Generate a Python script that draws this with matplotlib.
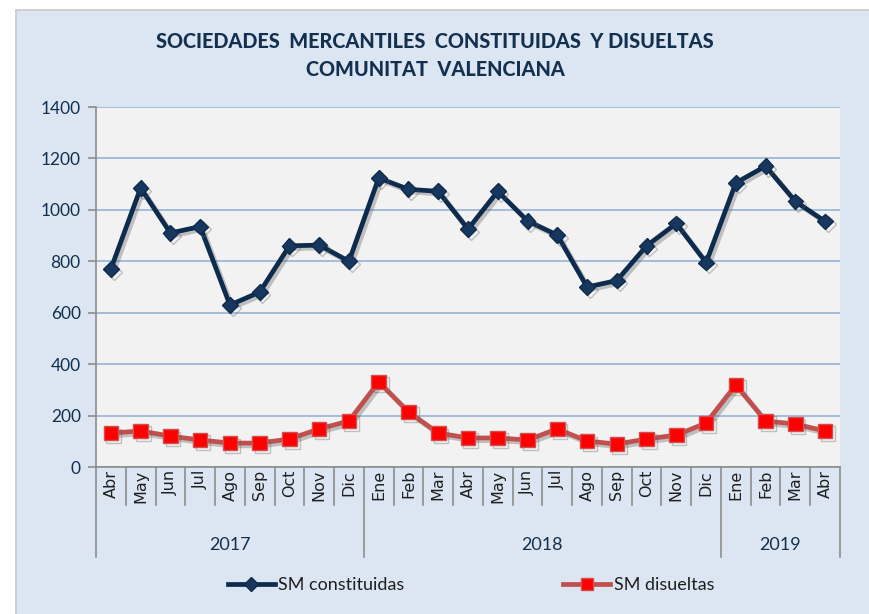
import matplotlib
matplotlib.use("Agg")
import matplotlib.pyplot as plt
import matplotlib.patheffects as pe
from matplotlib.patches import Rectangle
from matplotlib.lines import Line2D
import numpy as np

months = ["Abr", "May", "Jun", "Jul", "Ago", "Sep", "Oct", "Nov", "Dic",
          "Ene", "Feb", "Mar", "Abr", "May", "Jun", "Jul", "Ago", "Sep", "Oct", "Nov", "Dic",
          "Ene", "Feb", "Mar", "Abr"]
years = ["2017", "2018", "2019"]
year_counts = [9, 12, 4]
constituidas = [770, 1085, 910, 935, 630, 680, 860, 863, 800,
                1124, 1080, 1072, 925, 1072, 957, 902, 700, 725, 860, 947, 795,
                1105, 1170, 1033, 955]
disueltas = [132, 140, 120, 105, 93, 93, 109, 148, 179,
             331, 214, 132, 113, 113, 105, 148, 101, 89, 109, 124, 171,
             319, 179, 167, 140]
y_ticks = [0, 200, 400, 600, 800, 1000, 1200, 1400]

navy = "#0D2B4C"
txt = "#14304F"
bg = "#DCE6F2"

fig = plt.figure(figsize=(8.7, 6.14), dpi=100, facecolor="white")
fig.patches.append(Rectangle((16/870, -0.01), 1.0, 1 - 10/614 + 0.01, transform=fig.transFigure,
                             facecolor=bg, edgecolor="#C8C8C8", linewidth=1.2, zorder=-10))

ax = fig.add_axes([96/870, 1 - 467/614, (840 - 96)/870, (467 - 107)/614])
ax.set_facecolor("#F2F2F2")
n = len(months)
x = np.arange(n)
ax.set_xlim(-0.5, n - 0.5)
ax.set_ylim(0, 1400)
ax.set_yticks(y_ticks)
ax.set_yticklabels([str(v) for v in y_ticks], fontsize=12.5, color=txt, family="Lato")
ax.tick_params(axis="y", direction="out", length=6, color="#8C8C8C", width=1.2, pad=5)
ax.grid(axis="y", color="#95B3D7", linewidth=1.2)
ax.set_axisbelow(True)
for s in ["top", "right"]:
    ax.spines[s].set_visible(False)
ax.spines["left"].set_color("#8C8C8C")
ax.spines["left"].set_linewidth(1.2)
ax.spines["bottom"].set_color("#8C8C8C")
ax.spines["bottom"].set_linewidth(1.2)
ax.set_xticks([])

shadow = [pe.SimpleLineShadow(offset=(2, -2), shadow_color="#606060", alpha=0.35), pe.Normal()]
ax.plot(x, constituidas, color=navy, linewidth=3.4, marker="D", markersize=8,
        markerfacecolor="#17375E", markeredgecolor=navy, markeredgewidth=1,
        path_effects=shadow, zorder=4, clip_on=False)
ax.plot(x, disueltas, color="#C0504D", linewidth=3.4, marker="s", markersize=10.5,
        markerfacecolor="#FF0000", markeredgecolor="#D05050", markeredgewidth=1,
        path_effects=shadow, zorder=4, clip_on=False)

# multi-level category axis
trans = ax.get_xaxis_transform()
month_bottom = -(505 - 467) / 360
year_bottom = -(557 - 467) / 360
boundaries = [0]
for c in year_counts:
    boundaries.append(boundaries[-1] + c)
for i in range(n + 1):
    b = i - 0.5
    bottom = year_bottom if i in boundaries else month_bottom
    ax.plot([b, b], [0, bottom], transform=trans, color="#8C8C8C", linewidth=1.2, clip_on=False)
for i, m in enumerate(months):
    ax.text(i, -0.008, m, transform=trans, rotation=90, ha="center", va="top",
            fontsize=11.5, color="#1F1F1F", family="DejaVu Sans")
for k, yr in enumerate(years):
    c = (boundaries[k] + boundaries[k + 1] - 1) / 2
    ax.text(c, -(545 - 467) / 360, yr, transform=trans, ha="center", va="center",
            fontsize=13, color=txt, family="Lato")

fig.text(0.5, 1 - 42/614, "SOCIEDADES  MERCANTILES  CONSTITUIDAS  Y DISUELTAS",
         ha="center", va="center", fontsize=14.3, fontweight="black", color=txt, family="Lato")
fig.text(0.5, 1 - 69/614, "COMUNITAT  VALENCIANA",
         ha="center", va="center", fontsize=14.3, fontweight="black", color=txt, family="Lato")

h1 = Line2D([], [], color=navy, linewidth=3.4, marker="D", markersize=7,
            markerfacecolor="#17375E", markeredgecolor=navy)
h2 = Line2D([], [], color="#C0504D", linewidth=3.4, marker="s", markersize=9,
            markerfacecolor="#FF0000", markeredgecolor="#D05050")
leg = fig.legend([h1, h2], ["SM constituidas", "SM disueltas"], loc="center",
                 bbox_to_anchor=(471/870, 1 - 585/614), ncol=2, frameon=False,
                 columnspacing=8.8, handlelength=2.6, handletextpad=0.2,
                 prop={"family": "Lato", "size": 13})
for t in leg.get_texts():
    t.set_color("#1F1F1F")

fig.savefig("out.png", dpi=100, facecolor="white")
